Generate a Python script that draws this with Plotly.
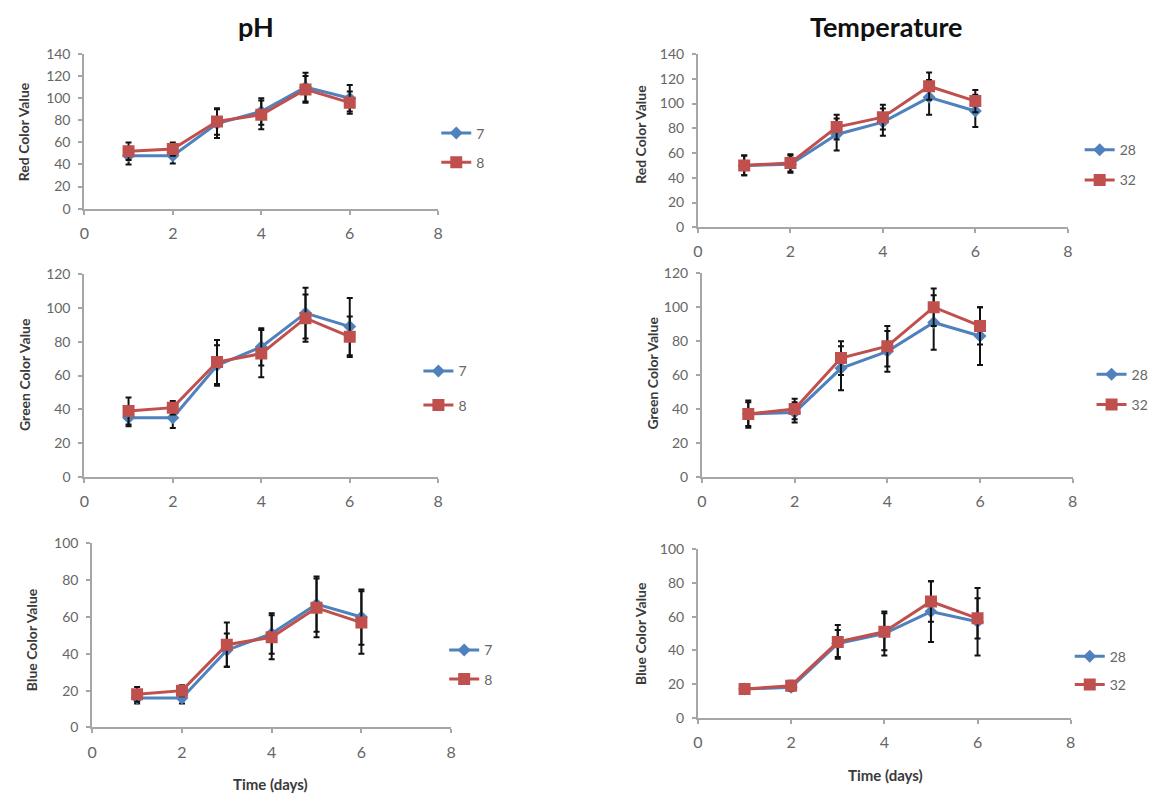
import plotly.graph_objects as go

days = [1, 2, 3, 4, 5, 6]

ph_levels = ["7", "8"]
temp_levels = ["28", "32"]

# pH – red channel
ph_red_7 = [48, 48, 77, 88, 110, 100]
ph_red_7_err = [8, 7, 13, 12, 13, 12]
ph_red_8 = [52, 54, 79, 85, 108, 96]
ph_red_8_err = [8, 6, 12, 13, 12, 10]

# Temperature – red channel
temp_red_28 = [50, 51, 75, 85, 105, 94]
temp_red_28_err = [8, 7, 13, 11, 14, 13]
temp_red_32 = [50, 52, 81, 89, 114, 102]
temp_red_32_err = [8, 7, 10, 10, 11, 9]

# pH – green channel
ph_green_7 = [35, 35, 66, 77, 97, 89]
ph_green_7_err = [5, 6, 12, 11, 15, 17]
ph_green_8 = [39, 41, 68, 73, 94, 83]
ph_green_8_err = [8, 4, 13, 14, 14, 12]

# Temperature – green channel
temp_green_28 = [37, 38, 64, 74, 91, 83]
temp_green_28_err = [7, 6, 13, 12, 16, 17]
temp_green_32 = [37, 40, 70, 77, 100, 89]
temp_green_32_err = [8, 6, 10, 12, 11, 11]

# pH – blue channel
ph_blue_7 = [16, 16, 42, 51, 67, 60]
ph_blue_7_err = [3, 3, 9, 11, 15, 15]
ph_blue_8 = [18, 20, 45, 49, 65, 57]
ph_blue_8_err = [4, 3, 12, 12, 16, 17]

# Temperature – blue channel
temp_blue_28 = [17, 18, 44, 50, 63, 57]
temp_blue_28_err = [2, 2, 8, 13, 18, 20]
temp_blue_32 = [17, 19, 45, 51, 69, 59]
temp_blue_32_err = [3, 3, 10, 11, 12, 12]

x_ticks = [0, 2, 4, 6, 8]

W, H = 1161, 803
BLUE = "#4F81BD"
RED = "#C0504D"
AXIS = "#A6A6A6"
TICKCOL = "#666666"
FONT = "Lato"

# plot box in pixels (left, right, top, bottom), y max, y title position,
# legend anchor (left x, vertical centre) and the gap between its two entries
panels = [
    dict(box=(80, 437, 46, 204), ymax=140, ytitle="Red Color Value", yt=(19, 125),
         labels=ph_levels, s1=(ph_red_7, ph_red_7_err), s2=(ph_red_8, ph_red_8_err),
         leg=(435, 142), gap=8),
    dict(box=(699, 1072, 46, 223), ymax=140, ytitle="Red Color Value", yt=(641, 128),
         labels=temp_levels, s1=(temp_red_28, temp_red_28_err), s2=(temp_red_32, temp_red_32_err),
         leg=(1084, 159.5), gap=9),
    dict(box=(80, 437, 271, 478), ymax=120, ytitle="Green Color Value", yt=(19, 373),
         labels=ph_levels, s1=(ph_green_7, ph_green_7_err), s2=(ph_green_8, ph_green_8_err),
         leg=(417, 387.5), gap=13),
    dict(box=(703, 1077, 270, 478), ymax=120, ytitle="Green Color Value", yt=(653, 372),
         labels=temp_levels, s1=(temp_green_28, temp_green_28_err), s2=(temp_green_32, temp_green_32_err),
         leg=(1096, 389), gap=9),
    dict(box=(88, 450, 546, 734), ymax=100, ytitle="Blue Color Value", yt=(27, 644),
         labels=ph_levels, s1=(ph_blue_7, ph_blue_7_err), s2=(ph_blue_8, ph_blue_8_err),
         leg=(443, 670), gap=8),
    dict(box=(699, 1075, 552, 724), ymax=100, ytitle="Blue Color Value", yt=(641, 638),
         labels=temp_levels, s1=(temp_blue_28, temp_blue_28_err), s2=(temp_blue_32, temp_blue_32_err),
         leg=(1074, 676), gap=7),
]

fig = go.Figure()
layout = {}
annotations = []

for i, p in enumerate(panels, start=1):
    suffix = "" if i == 1 else str(i)
    xa, ya = "x" + suffix, "y" + suffix
    leg = "legend" + suffix
    l, r, t, b = p["box"]
    for (vals, err), name, color, symbol, size in [
        (p["s1"], p["labels"][0], BLUE, "diamond", 10),
        (p["s2"], p["labels"][1], RED, "square", 12),
    ]:
        fig.add_trace(go.Scatter(
            x=days, y=vals, name=name, mode="lines+markers",
            xaxis=xa, yaxis=ya, legend=leg, legendgroup=f"{i}-{name}",
            line=dict(color=color, width=3),
            marker=dict(symbol=symbol, size=size, color=color),
            error_y=dict(type="data", array=err, visible=True,
                         color="#111111", thickness=2, width=3),
        ))
    layout["xaxis" + suffix] = dict(
        domain=[l / W, r / W], anchor=ya, range=[0, 8], tickvals=x_ticks,
        showline=True, linecolor=AXIS, linewidth=2, ticks="outside",
        ticklen=4, tickcolor=AXIS, tickwidth=2, showgrid=False, zeroline=False,
        tickfont=dict(family=FONT, size=16, color=TICKCOL), ticklabelstandoff=5,
    )
    layout["yaxis" + suffix] = dict(
        domain=[1 - b / H, 1 - t / H], anchor=xa, range=[0, p["ymax"]], dtick=20,
        showline=True, linecolor=AXIS, linewidth=2, ticks="outside",
        ticklen=4, tickcolor=AXIS, tickwidth=2, showgrid=False, zeroline=False,
        tickfont=dict(family=FONT, size=14, color=TICKCOL), ticklabelstandoff=5,
    )
    layout[leg] = dict(
        x=p["leg"][0] / W, y=1 - p["leg"][1] / H, xanchor="left", yanchor="middle",
        bgcolor="rgba(0,0,0,0)", borderwidth=0, tracegroupgap=p["gap"],
        font=dict(family=FONT, size=14, color=TICKCOL),
    )
    annotations.append(dict(
        text=f"<b>{p['ytitle']}</b>", textangle=-90, showarrow=False,
        x=p["yt"][0] / W, y=1 - p["yt"][1] / H, xref="paper", yref="paper",
        xanchor="center", yanchor="middle",
        font=dict(family=FONT, size=14, color="#3A3A3A"),
    ))

# column headings
annotations.append(dict(text="<b>pH</b>", x=253 / W, y=1 - 18 / H, xref="paper", yref="paper",
                        showarrow=False, xanchor="center", yanchor="middle",
                        font=dict(family=FONT, size=27, color="#111111")))
annotations.append(dict(text="<b>Temperature</b>", x=889 / W, y=1 - 18 / H, xref="paper", yref="paper",
                        showarrow=False, xanchor="center", yanchor="middle",
                        font=dict(family=FONT, size=27, color="#111111")))
# x axis titles under the bottom row
annotations.append(dict(text="<b>Time (days)</b>", x=268 / W, y=1 - 792 / H, xref="paper", yref="paper",
                        showarrow=False, xanchor="center", yanchor="middle",
                        font=dict(family=FONT, size=15, color="#3A3A3A")))
annotations.append(dict(text="<b>Time (days)</b>", x=888 / W, y=1 - 783 / H, xref="paper", yref="paper",
                        showarrow=False, xanchor="center", yanchor="middle",
                        font=dict(family=FONT, size=15, color="#3A3A3A")))

fig.update_layout(
    width=W, height=H, autosize=False,
    margin=dict(l=0, r=0, t=0, b=0),
    paper_bgcolor="white", plot_bgcolor="white",
    showlegend=True, annotations=annotations,
    **layout,
)

fig.write_html("out.html")
